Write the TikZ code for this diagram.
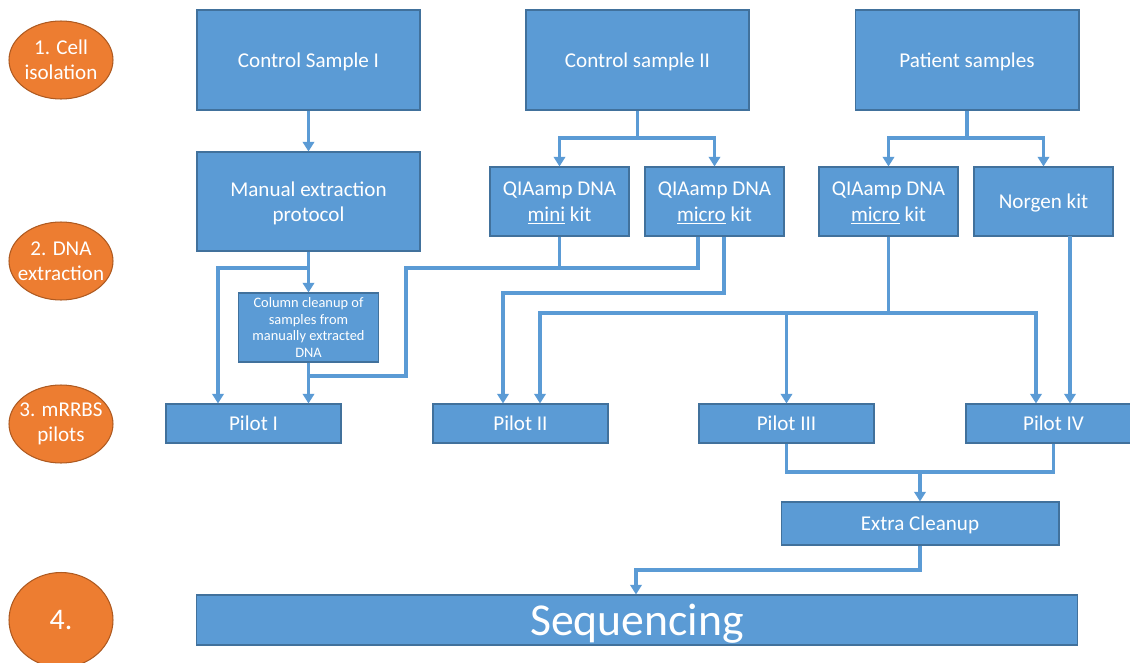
\documentclass[tikz,border=0pt]{standalone}
\usepackage{fontspec}
\setmainfont{Carlito}
\usetikzlibrary{shapes.geometric, arrows.meta}

\definecolor{boxblue}{HTML}{5B9BD5}
\definecolor{boxedge}{HTML}{41719C}
\definecolor{stagefill}{HTML}{ED7D31}
\definecolor{stageedge}{HTML}{AE5A21}

\tikzset{
	box/.style={draw=boxedge, fill=boxblue, text=white, line width=0.6pt, inner sep=0pt, align=center, text depth=0pt, font=\fontsize{12}{14.5}\selectfont},
	stage/.style={ellipse, draw=stageedge, fill=stagefill, text=white, line width=0.6pt, inner xsep=-7pt, inner ysep=0pt, minimum width=2.08cm, minimum height=1.56cm, align=center, font=\fontsize{12}{14.5}\selectfont},
	link/.style={draw=boxblue, line width=2pt},
	arr/.style={link, -{Triangle[width=6.5pt,length=5.5pt]}},
}

\begin{document}
\begin{tikzpicture}[x=0.02cm, y=-0.02cm]
			\useasboundingbox (0,0) rectangle (1130,663);
			\clip (0,0) rectangle (1130,663);
			
			\node[stage] (s1) at (61,60) {1. Cell\\isolation};
			\node[stage] (s2) at (61,261) {2. DNA\\extraction};
			\node[stage] (s3) at (61,424) {3. mRRBS\\pilots};
			\node[stage, minimum height=1.9cm, font=\fontsize{17}{18}\selectfont] (s4) at (61,620) {4.};
			
			\node[box, minimum width=4.46cm, minimum height=2cm] (cs1) at (308.5,60) {Control Sample I};
			\node[box, minimum width=4.46cm, minimum height=2cm] (cs2) at (637.5,60) {Control sample II};
			\node[box, minimum width=4.48cm, minimum height=2cm] (pat) at (967,60) {Patient samples};
			
			\node[box, minimum width=4.46cm, minimum height=1.98cm] (manual) at (308.5,201.5) {Manual extraction\\protocol};
			\node[box, minimum width=2.78cm, minimum height=1.38cm] (mini) at (559.5,201.5) {QIAamp DNA\\\underline{mini} kit};
			\node[box, minimum width=2.78cm, minimum height=1.38cm] (micro2) at (714.5,201.5) {QIAamp DNA\\\underline{micro} kit};
			\node[box, minimum width=2.78cm, minimum height=1.38cm] (micro3) at (888.5,201.5) {QIAamp DNA\\\underline{micro} kit};
			\node[box, minimum width=2.78cm, minimum height=1.38cm] (norgen) at (1043.5,201.5) {Norgen kit};
			
			\node[box, minimum width=2.8cm, minimum height=1.38cm, font=\fontsize{8.2}{9.5}\selectfont] (column) at (308.5,327.5) {Column cleanup of\\samples from\\manually extracted\\DNA};
			
			\node[box, minimum width=3.5cm, minimum height=0.78cm] (pilot1) at (253.5,423.5) {Pilot I};
			\node[box, minimum width=3.5cm, minimum height=0.78cm] (pilot2) at (520.5,423.5) {Pilot II};
			\node[box, minimum width=3.5cm, minimum height=0.78cm] (pilot3) at (786.5,423.5) {Pilot III};
			\node[box, minimum width=3.5cm, minimum height=0.78cm] (pilot4) at (1053.5,423.5) {Pilot IV};
			
			\node[box, minimum width=5.56cm, minimum height=0.86cm] (extra) at (920,523.5) {Extra Cleanup};
			\node[box, minimum width=17.64cm, minimum height=1cm, font=\fontsize{26}{30}\selectfont] (seq) at (637,620) {Sequencing};
			
			\coordinate (ctrl-j) at (637.5,138);
			\coordinate (pat-j) at (967,138);
			\coordinate (man-j) at (308.5,268);
			\coordinate (p1-left) at (218,268);
			\coordinate (kit-j) at (406,268);
			\coordinate (k2) at (698,268);
			\coordinate (clean-j) at (308.5,376);
			\coordinate (m2-r) at (724,293);
			\coordinate (p2-a) at (503,293);
			\coordinate (p2-b) at (540,313);
			\coordinate (p4-a) at (1036,313);
			\coordinate (ng) at (1070,236);
			\coordinate (merge) at (920,472);
			\coordinate (seq-j) at (636,570);
			
			\draw[arr] (cs1) -- (manual);
			\draw[link] (cs2.south) -- (ctrl-j);
			\draw[arr] (ctrl-j) -| (mini.north);
			\draw[arr] (ctrl-j) -| (micro2.north);
			\draw[link] (pat.south) -- (pat-j);
			\draw[arr] (pat-j) -| (micro3.north);
			\draw[arr] (pat-j) -| (norgen.north);
			
			\draw[link] (manual.south) -- (man-j);
			\draw[arr] (man-j) -- (column.north);
			\draw[arr] (man-j) -- (p1-left) -- (p1-left |- pilot1.north);
			\draw[arr] (column.south) -- (column.south |- pilot1.north);
			\draw[link] (mini.south) -- (mini.south |- kit-j);
			\draw[link] (k2 |- micro2.south) -- (k2) -- (kit-j) -- (kit-j |- clean-j) -- (clean-j);
			
			\draw[arr] (m2-r |- micro2.south) -- (m2-r) -- (p2-a) -- (p2-a |- pilot2.north);
			\draw[link] (micro3.south) -- (micro3.south |- p2-b);
			\draw[arr] (p2-b -| micro3.south) -- (p2-b) -- (p2-b |- pilot2.north);
			\draw[arr] (p2-b -| micro3.south) -- (p4-a) -- (p4-a |- pilot4.north);
			\draw[arr] (p2-b -| pilot3.north) -- (pilot3.north);
			\draw[arr] (ng) -- (ng |- pilot4.north);
			
			\draw[link] (pilot3.south) -- (pilot3.south |- merge) -| (pilot4.south);
			\draw[arr] (merge) -- (extra.north);
			\draw[arr] (extra.south) |- (seq-j) -- (seq-j |- seq.north);
\end{tikzpicture}
\end{document}
